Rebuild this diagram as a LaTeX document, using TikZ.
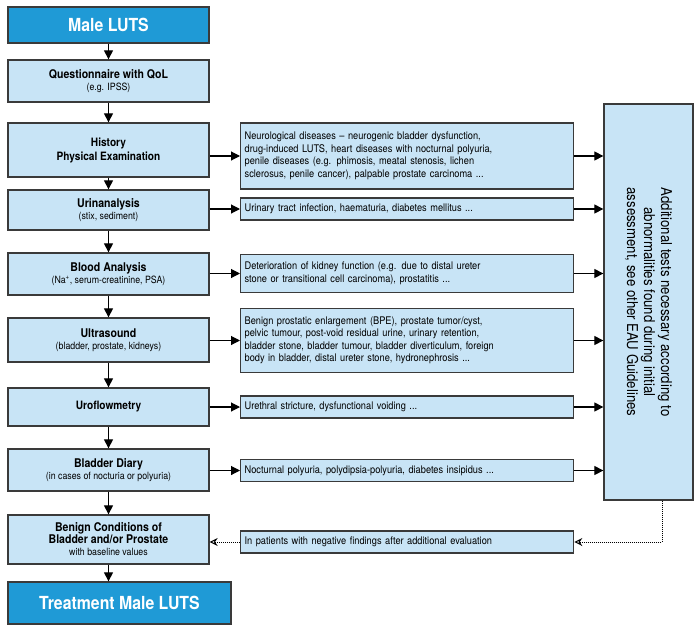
\documentclass[tikz,border=0pt]{standalone}
\usepackage{fontspec}
\setmainfont{TeX Gyre Heros}[FakeStretch=0.88]
\usetikzlibrary{arrows.meta}
\definecolor{dblue}{HTML}{1F9AD6}
\definecolor{lblue}{HTML}{C8E4F6}
\definecolor{bord}{HTML}{3A3A3A}
\begin{document}
\begin{tikzpicture}[x=1pt,y=-1pt,
  base/.style={draw=bord,line width=1.3pt,inner sep=2pt,align=center},
  big/.style={base,fill=dblue,text=white,font=\fontsize{18}{20}\selectfont\bfseries,minimum width=201pt,minimum height=36pt},
  stepbox/.style={base,fill=lblue,font=\fontsize{10}{12}\selectfont,minimum width=201pt},
  info/.style={base,fill=lblue,font=\fontsize{10.5}{12.5}\selectfont,align=left,text width=325pt,minimum width=333pt,anchor=west},
  arr/.style={-{Stealth[length=9pt,width=9pt,inset=0pt]},line width=1.1pt},
  dot/.style={-{Stealth[length=8pt,width=8pt,open]},line width=1pt,densely dotted}]
\useasboundingbox (0,0) rectangle (700,634);
\node[big] (m) at (108.5,25) {Male LUTS};
\node[stepbox,minimum height=42pt] (q) at (108.5,81) {\textbf{\large Questionnaire with QoL}\\(e.g. IPSS)};
\node[stepbox,minimum height=54pt,font=\fontsize{11.5}{14}\selectfont\bfseries] (h) at (108.5,150) {History\\Physical Examination};
\node[stepbox,minimum height=40pt] (u) at (108.5,210) {\textbf{\large Urinanalysis}\\(stix, sediment)};
\node[stepbox,minimum height=42pt] (b) at (108.5,274) {\textbf{\large Blood Analysis}\\(Na\textsuperscript{+}, serum-creatinine, PSA)};
\node[stepbox,minimum height=44pt] (us) at (108.5,340) {\textbf{\large Ultrasound}\\(bladder, prostate, kidneys)};
\node[stepbox,minimum height=38pt,font=\fontsize{11.5}{14}\selectfont\bfseries] (uf) at (108.5,407) {Uroflowmetry};
\node[stepbox,minimum height=42pt] (bd) at (108.5,470) {\textbf{\large Bladder Diary}\\(in cases of nocturia or polyuria)};
\node[stepbox,minimum height=49pt] (bc) at (108.5,539.5) {\textbf{\large Benign Conditions of}\\\textbf{\large Bladder and/or Prostate}\\with baseline values};
\node[big,minimum width=223pt,minimum height=42pt] (t) at (119.5,603) {Treatment Male LUTS};
\foreach \a/\b in {m/q,q/h,h/u,u/b,b/us,us/uf,uf/bd,bd/bc,bc/t}
  \draw[arr] (\a.south) -- (\a.south |- \b.north);
\node[base,fill=lblue,minimum width=89pt,minimum height=396pt] (ad) at (648.5,302) {};
\node[rotate=-90,align=center,font=\fontsize{15}{17}\selectfont] (adt) at (ad.center) {Additional tests necessary according to\\abnormalities found during initial\\assessment, see other EAU Guidelines};
\node[info,minimum height=66pt] (i1) at (240,156) {Neurological diseases -- neurogenic bladder dysfunction,\\drug-induced LUTS, heart diseases with nocturnal polyuria,\\penile diseases (e.g. phimosis, meatal stenosis, lichen\\sclerosus, penile cancer), palpable prostate carcinoma ...};
\node[info,minimum height=22pt] (i2) at (240,209) {Urinary tract infection, haematuria, diabetes mellitus ...};
\node[info,minimum height=38pt] (i3) at (240,273.5) {Deterioration of kidney function (e.g. due to distal ureter\\stone or transitional cell carcinoma), prostatitis ...};
\node[info,minimum height=64pt] (i4) at (240,340.5) {Benign prostatic enlargement (BPE), prostate tumor/cyst,\\pelvic tumour, post-void residual urine, urinary retention,\\bladder stone, bladder tumour, bladder diverticulum, foreign\\body in bladder, distal ureter stone, hydronephrosis ...};
\node[info,minimum height=22pt] (i5) at (240,407) {Urethral stricture, dysfunctional voiding ...};
\node[info,minimum height=22pt] (i6) at (240,470.5) {Nocturnal polyuria, polydipsia-polyuria, diabetes insipidus ...};
\node[info,minimum height=22pt] (i7) at (240,542) {In patients with negative findings after additional evaluation};
\foreach \a/\b in {h/i1,u/i2,b/i3,us/i4,uf/i5,bd/i6}{
  \draw[arr] (\a.east |- \b.west) -- (\b.west);
  \draw[arr] (\b.east) -- (\b.east -| ad.west);}
\coordinate (c) at (662,542);
\draw[dot] (ad.south -| c) -- (c) -- (i7.east);
\draw[dot] (i7.west) -- (i7.west -| bc.east);
\end{tikzpicture}
\end{document}
